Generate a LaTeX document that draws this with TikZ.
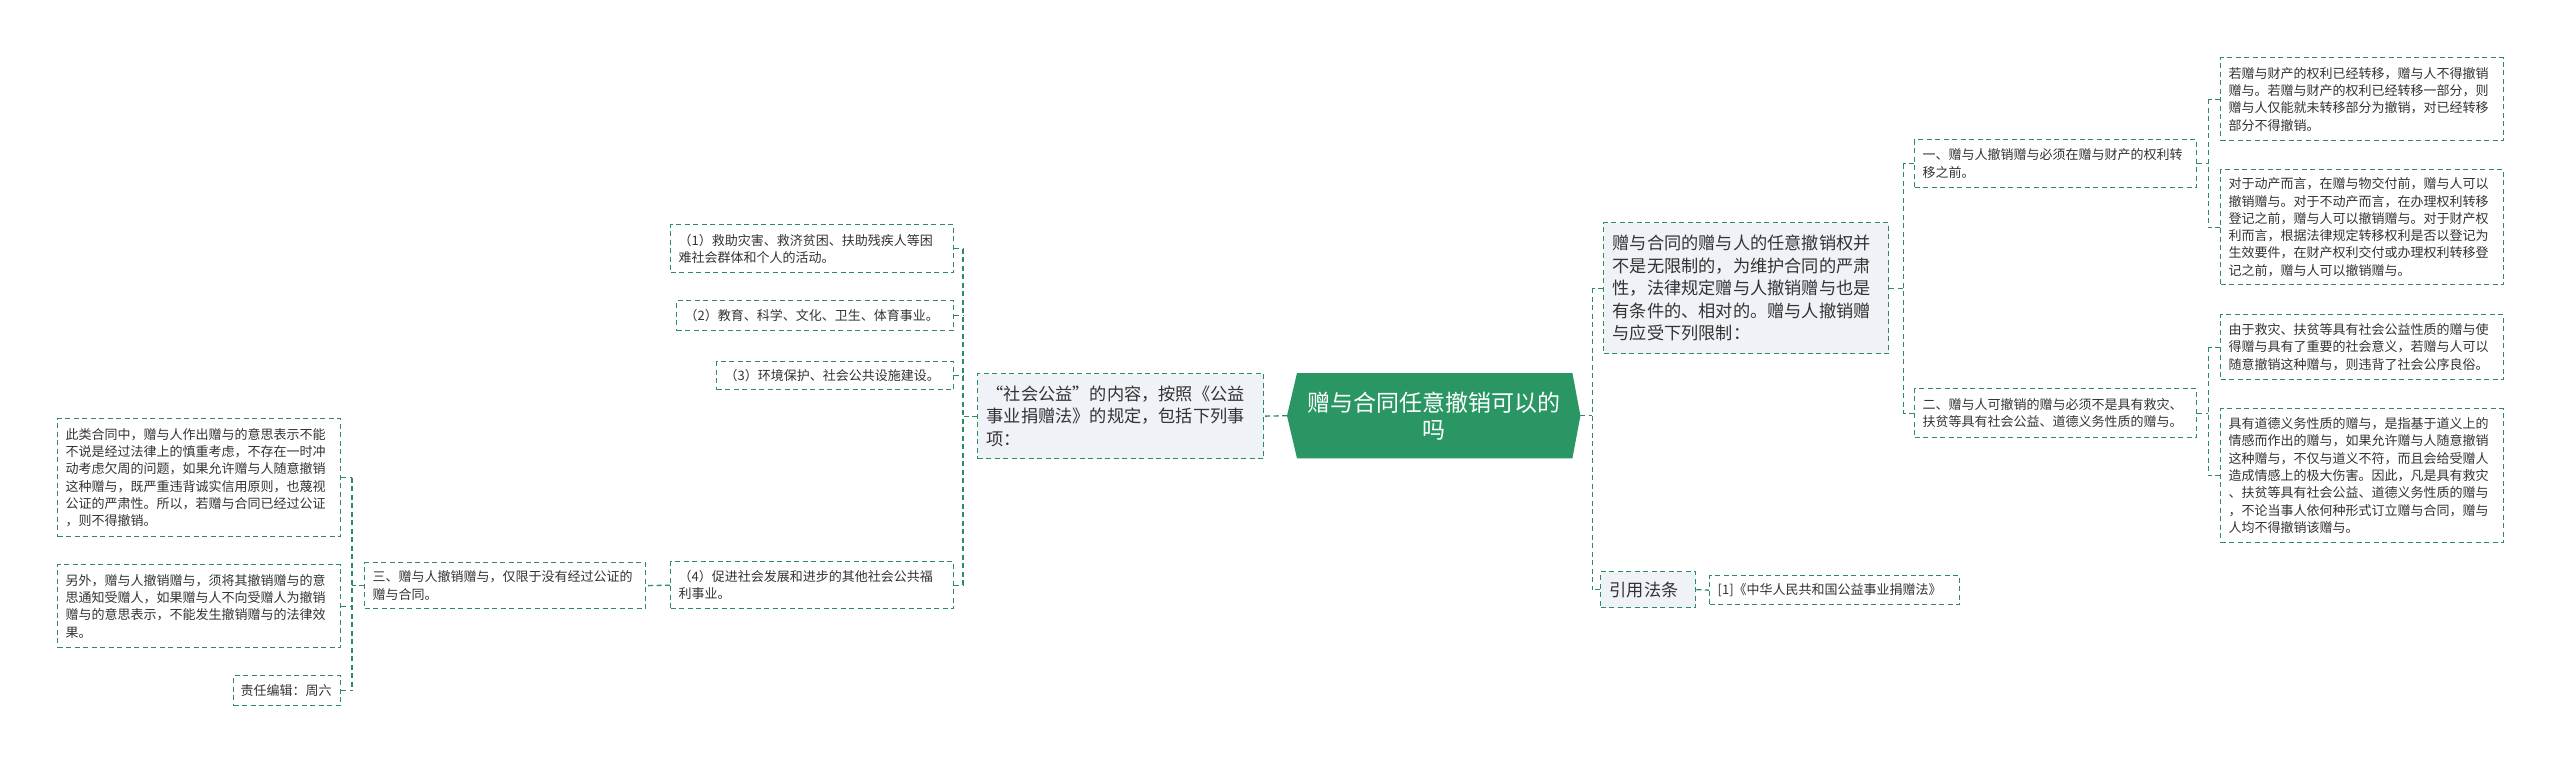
\documentclass[tikz,border=0pt]{standalone}
\usepackage{fontspec}
\setmainfont{Noto Sans CJK SC}
\usetikzlibrary{backgrounds,calc}
\definecolor{lc}{RGB}{46,139,96}
\definecolor{mainfill}{RGB}{42,150,100}
\definecolor{grayfill}{RGB}{239,242,246}
\definecolor{tc}{RGB}{51,51,51}
\newcommand{\fq}[1]{{\addfontfeature{RawFeature=+fwid}#1}}
\begin{document}
\begin{tikzpicture}[x=1pt,y=-1pt,
  lk/.style={draw=lc, line width=1.3pt, dash pattern=on 5pt off 3.5pt},
  bx/.style={lk, fill=white, anchor=north west, align=left, inner xsep=8pt, inner ysep=0pt, text=tc, font=\fontsize{13}{17.3}\selectfont},
  bigbx/.style={bx, fill=grayfill, inner xsep=9pt, font=\fontsize{17.2}{22.5}\selectfont},
  mainbx/.style={anchor=north west, inner sep=0pt, align=center, text=white, font=\fontsize{23}{27}\selectfont, minimum width=293pt, minimum height=85pt}
]
\useasboundingbox (0,0) rectangle (2560,764);

% main node
\node[mainbx] (m) at (1287,373) {赠与合同任意撤销可以的\\吗};
\begin{scope}[on background layer]
\fill[white] (0,0) rectangle (2560,764);
\fill[mainfill] (m.west) -- ($(m.north west)+(10,0)$) -- ($(m.north east)+(-8,0)$) -- (m.east) -- ($(m.south east)+(-8,0)$) -- ($(m.south west)+(10,0)$) -- cycle;
\end{scope}

% left side
\node[bigbx, text width=268pt, minimum height=85pt] (soc) at (977,373) {\fq{“}社会公益\fq{”}的内容，按照《公益\\事业捐赠法》的规定，包括下列事\\项：};
\node[bx, text width=267pt, minimum height=48pt] (c1) at (670,224) {（1）救助灾害、救济贫困、扶助残疾人等困\\难社会群体和个人的活动。};
\node[bx, text width=261pt, minimum height=30pt] (c2) at (676,300) {（2）教育、科学、文化、卫生、体育事业。};
\node[bx, text width=221pt, minimum height=28pt] (c3) at (716,361) {（3）环境保护、社会公共设施建设。};
\node[bx, text width=267pt, minimum height=47pt] (c4) at (670,561) {（4）促进社会发展和进步的其他社会公共福\\利事业。};
\node[bx, text width=265pt, minimum height=46pt] (san) at (364,562) {三、赠与人撤销赠与，仅限于没有经过公证的\\赠与合同。};
\node[bx, text width=267pt, minimum height=118pt] (L1) at (57,418) {此类合同中，赠与人作出赠与的意思表示不能\\不说是经过法律上的慎重考虑，不存在一时冲\\动考虑欠周的问题，如果允许赠与人随意撤销\\这种赠与，既严重违背诚实信用原则，也蔑视\\公证的严肃性。所以，若赠与合同已经过公证\\，则不得撤销。};
\node[bx, text width=267pt, minimum height=83pt] (L2) at (57,564) {另外，赠与人撤销赠与，须将其撤销赠与的意\\思通知受赠人，如果赠与人不向受赠人为撤销\\赠与的意思表示，不能发生撤销赠与的法律效\\果。};
\node[bx, inner xsep=7pt, text width=93pt, minimum height=30pt] (L3) at (233,675) {责任编辑：周六};

% right side
\node[bigbx, text width=267pt, minimum height=131pt] (R1) at (1603,222) {赠与合同的赠与人的任意撤销权并\\不是无限制的，为维护合同的严肃\\性，法律规定赠与人撤销赠与也是\\有条件的、相对的。赠与人撤销赠\\与应受下列限制：};
\node[bx, text width=266pt, minimum height=48pt] (yi) at (1914,139) {一、赠与人撤销赠与必须在赠与财产的权利转\\移之前。};
\node[bx, text width=266pt, minimum height=49pt] (er) at (1914,388) {二、赠与人可撤销的赠与必须不是具有救灾、\\扶贫等具有社会公益、道德义务性质的赠与。};
\node[bx, text width=267pt, minimum height=83pt] (RR1) at (2220,57) {若赠与财产的权利已经转移，赠与人不得撤销\\赠与。若赠与财产的权利已经转移一部分，则\\赠与人仅能就未转移部分为撤销，对已经转移\\部分不得撤销。};
\node[bx, text width=267pt, minimum height=115pt] (RR2) at (2220,169) {对于动产而言，在赠与物交付前，赠与人可以\\撤销赠与。对于不动产而言，在办理权利转移\\登记之前，赠与人可以撤销赠与。对于财产权\\利而言，根据法律规定转移权利是否以登记为\\生效要件，在财产权利交付或办理权利转移登\\记之前，赠与人可以撤销赠与。};
\node[bx, text width=267pt, minimum height=65pt] (RR3) at (2220,314) {由于救灾、扶贫等具有社会公益性质的赠与使\\得赠与具有了重要的社会意义，若赠与人可以\\随意撤销这种赠与，则违背了社会公序良俗。};
\node[bx, text width=267pt, minimum height=134pt] (RR4) at (2220,408) {具有道德义务性质的赠与，是指基于道义上的\\情感而作出的赠与，如果允许赠与人随意撤销\\这种赠与，不仅与道义不符，而且会给受赠人\\造成情感上的极大伤害。因此，凡是具有救灾\\、扶贫等具有社会公益、道德义务性质的赠与\\，不论当事人依何种形式订立赠与合同，赠与\\人均不得撤销该赠与。};
\node[bigbx, text width=77pt, minimum height=36pt] (yy) at (1600,571) {引用法条};
\node[bx, text width=234pt, minimum height=29pt] (law) at (1709,575) {[1]《中华人民共和国公益事业捐赠法》};

% connectors, left
\draw[lk] (m.west) -- (soc.east);
\draw[lk] (soc.west) -- ++(-14,0) coordinate (ts);
\draw[lk] (c1.east -| ts) -- (c4.east -| ts);
\foreach \c in {c1,c2,c3,c4} \draw[lk] (\c.east) -- (\c.east -| ts);
\draw[lk] (c4.west) -- (san.east);
\draw[lk] (san.west) -- ++(-12,0) coordinate (tsan);
\draw[lk] (L1.east -| tsan) -- (L3.east -| tsan);
\foreach \c in {L1,L2,L3} \draw[lk] (\c.east) -- (\c.east -| tsan);

% connectors, right
\draw[lk] (m.east) -- ++(12,0) coordinate (tm);
\draw[lk] (R1.west -| tm) -- (yy.west -| tm);
\foreach \c in {R1,yy} \draw[lk] (\c.west) -- (\c.west -| tm);
\draw[lk] (R1.east) -- ++(14,0) coordinate (tr);
\draw[lk] (yi.west -| tr) -- (er.west -| tr);
\foreach \c in {yi,er} \draw[lk] (\c.west) -- (\c.west -| tr);
\draw[lk] (yi.east) -- ++(11,0) coordinate (tyi);
\draw[lk] (RR1.west -| tyi) -- (RR2.west -| tyi);
\foreach \c in {RR1,RR2} \draw[lk] (\c.west) -- (\c.west -| tyi);
\draw[lk] (er.east) -- ++(11,0) coordinate (ter);
\draw[lk] (RR3.west -| ter) -- (RR4.west -| ter);
\foreach \c in {RR3,RR4} \draw[lk] (\c.west) -- (\c.west -| ter);
\draw[lk] (yy.east) -- (law.west);
\end{tikzpicture}
\end{document}
